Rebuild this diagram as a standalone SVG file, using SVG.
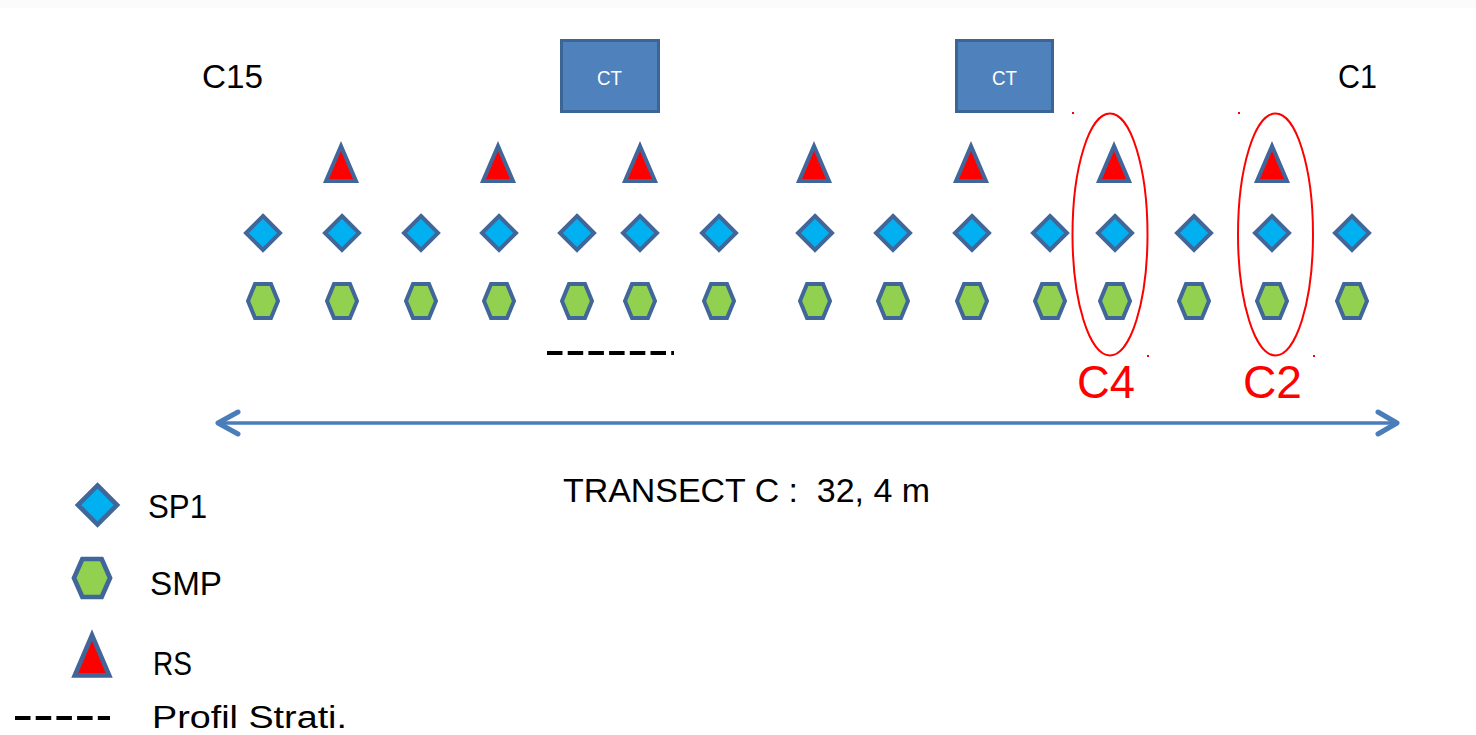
<svg xmlns="http://www.w3.org/2000/svg" xmlns:xlink="http://www.w3.org/1999/xlink" width="1476" height="735" viewBox="0 0 1476 735">
  <style>
    .lbl { font-family: "Liberation Sans", Arial, sans-serif; fill: #000; }
    .ct { font-family: "Liberation Sans", Arial, sans-serif; fill: #fff; font-size: 21px; }
    .red { font-family: "Liberation Sans", Arial, sans-serif; fill: #ff0000; font-size: 46px; }
    .box { fill: #4f81bd; stroke: #3a6595; stroke-width: 3; }
    .mark { stroke: #41679a; stroke-width: 4; stroke-linejoin: miter; }
    .sp1 { fill: #00b0f0; }
    .smp { fill: #92d050; }
    .rs { fill: #ff0000; }
    .ring { fill: none; stroke: #ff0000; stroke-width: 2; }
    .profil { stroke: #000; stroke-width: 4; stroke-dasharray: 15.5 5.2; fill: none; }
    .axis { stroke: #4a7ebb; stroke-width: 3.5; fill: none; stroke-linecap: round; stroke-linejoin: round; }
    .head { stroke: #4a7ebb; stroke-width: 5; fill: none; stroke-linecap: round; stroke-linejoin: round; }
  </style>
  <defs>
    <polygon id="diamond" class="mark sp1" points="0,-17 17,0 0,17 -17,0"/>
    <polygon id="hexagon" class="mark smp" points="-15,0 -8,-17 8,-17 15,0 8,17 -8,17"/>
    <polygon id="triangle" class="mark rs" points="0,-19 15,16 -15,16"/>
  </defs>

  <rect x="0" y="0" width="1476" height="8" fill="#fbfbfb"/>

  <!-- end labels -->
  <g id="label-c15"><text class="lbl" x="202" y="88" font-size="34" textLength="61" lengthAdjust="spacingAndGlyphs">C15</text></g>
  <g id="label-c1"><text class="lbl" x="1338" y="88" font-size="34" textLength="39" lengthAdjust="spacingAndGlyphs">C1</text></g>

  <!-- CT boxes -->
  <g id="ct-1">
    <rect class="box" x="561.5" y="40.5" width="97" height="71"/>
    <text class="ct" x="597" y="85" textLength="25" lengthAdjust="spacingAndGlyphs">CT</text>
  </g>
  <g id="ct-2">
    <rect class="box" x="956.5" y="40.5" width="96" height="71"/>
    <text class="ct" x="992" y="85" textLength="25" lengthAdjust="spacingAndGlyphs">CT</text>
  </g>

  <!-- RS points -->
  <g id="rs-row">
    <use xlink:href="#triangle" x="341" y="165"/>
    <use xlink:href="#triangle" x="498" y="165"/>
    <use xlink:href="#triangle" x="640" y="165"/>
    <use xlink:href="#triangle" x="814" y="165"/>
    <use xlink:href="#triangle" x="971" y="165"/>
    <use xlink:href="#triangle" x="1114" y="165"/>
    <use xlink:href="#triangle" x="1272" y="165"/>
  </g>

  <!-- SP1 points -->
  <g id="sp1-row">
    <use xlink:href="#diamond" x="263" y="233"/>
    <use xlink:href="#diamond" x="342" y="233"/>
    <use xlink:href="#diamond" x="421" y="233"/>
    <use xlink:href="#diamond" x="499" y="233"/>
    <use xlink:href="#diamond" x="577" y="233"/>
    <use xlink:href="#diamond" x="640" y="233"/>
    <use xlink:href="#diamond" x="719" y="233"/>
    <use xlink:href="#diamond" x="815" y="233"/>
    <use xlink:href="#diamond" x="893" y="233"/>
    <use xlink:href="#diamond" x="972" y="233"/>
    <use xlink:href="#diamond" x="1050" y="233"/>
    <use xlink:href="#diamond" x="1115" y="233"/>
    <use xlink:href="#diamond" x="1194" y="233"/>
    <use xlink:href="#diamond" x="1272" y="233"/>
    <use xlink:href="#diamond" x="1352" y="233"/>
  </g>

  <!-- SMP points -->
  <g id="smp-row">
    <use xlink:href="#hexagon" x="263" y="301"/>
    <use xlink:href="#hexagon" x="342" y="301"/>
    <use xlink:href="#hexagon" x="421" y="301"/>
    <use xlink:href="#hexagon" x="499" y="301"/>
    <use xlink:href="#hexagon" x="577" y="301"/>
    <use xlink:href="#hexagon" x="640" y="301"/>
    <use xlink:href="#hexagon" x="719" y="301"/>
    <use xlink:href="#hexagon" x="815" y="301"/>
    <use xlink:href="#hexagon" x="893" y="301"/>
    <use xlink:href="#hexagon" x="972" y="301"/>
    <use xlink:href="#hexagon" x="1050" y="301"/>
    <use xlink:href="#hexagon" x="1115" y="301"/>
    <use xlink:href="#hexagon" x="1194" y="301"/>
    <use xlink:href="#hexagon" x="1272" y="301"/>
    <use xlink:href="#hexagon" x="1352" y="301"/>
  </g>

  <!-- stratigraphic profile segment -->
  <g id="profil-line"><line class="profil" x1="547" y1="353" x2="674" y2="353"/></g>

  <!-- highlighted columns -->
  <g id="group-c4">
    <ellipse class="ring" cx="1110" cy="234.5" rx="37.5" ry="121"/>
    <rect x="1072" y="112" width="2" height="2" fill="#ff0000"/>
    <rect x="1147" y="355" width="2" height="2" fill="#ff0000"/>
    <text class="red" x="1077" y="398" textLength="58" lengthAdjust="spacingAndGlyphs">C4</text>
  </g>
  <g id="group-c2">
    <ellipse class="ring" cx="1275.5" cy="234.5" rx="37.5" ry="121"/>
    <rect x="1238" y="112" width="2" height="2" fill="#ff0000"/>
    <rect x="1313" y="355" width="2" height="2" fill="#ff0000"/>
    <text class="red" x="1243" y="398" textLength="59" lengthAdjust="spacingAndGlyphs">C2</text>
  </g>

  <!-- transect axis -->
  <g id="connectors">
    <line class="axis" x1="218" y1="423" x2="1397" y2="423"/>
    <polyline class="head" points="238,412 218,423 238,434"/>
    <polyline class="head" points="1378,412 1397,423 1378,434"/>
  </g>
  <g id="label-transect"><text class="lbl" x="563" y="502" font-size="33" textLength="367" lengthAdjust="spacingAndGlyphs" xml:space="preserve">TRANSECT C :  32, 4 m</text></g>

  <!-- legend -->
  <g id="legend-sp1">
    <use xlink:href="#diamond" transform="translate(97.5,505) scale(1.15)"/>
    <text class="lbl" x="148" y="518" font-size="33" textLength="59" lengthAdjust="spacingAndGlyphs">SP1</text>
  </g>
  <g id="legend-smp">
    <use xlink:href="#hexagon" transform="translate(92,578) scale(1.2,1.12)"/>
    <text class="lbl" x="150" y="595" font-size="33" textLength="72" lengthAdjust="spacingAndGlyphs">SMP</text>
  </g>
  <g id="legend-rs">
    <use xlink:href="#triangle" transform="translate(92,657) scale(1.15)"/>
    <text class="lbl" x="153" y="675" font-size="33" textLength="39" lengthAdjust="spacingAndGlyphs">RS</text>
  </g>
  <g id="legend-profil">
    <line class="profil" x1="15" y1="718" x2="110" y2="718"/>
    <text class="lbl" x="152" y="728" font-size="31" textLength="195" lengthAdjust="spacingAndGlyphs">Profil Strati.</text>
  </g>
</svg>
